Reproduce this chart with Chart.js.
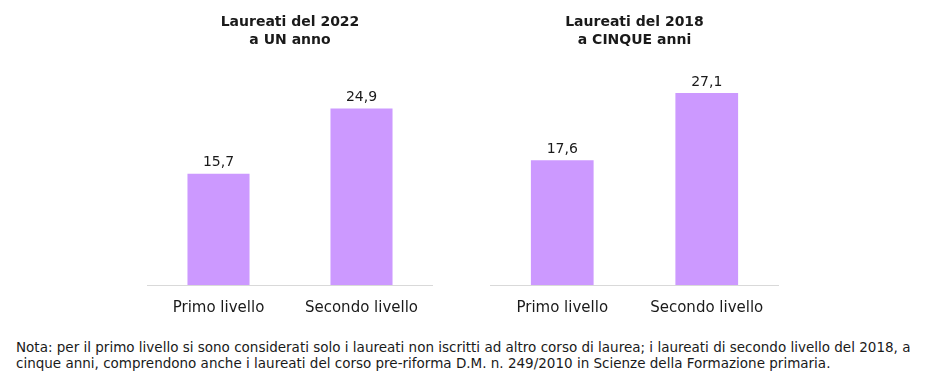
<!DOCTYPE html>
<html>
<head>
<meta charset="utf-8">
<script src="https://cdn.jsdelivr.net/npm/chart.js@4"></script>
<style>
  body { margin: 0; background: #fff; width: 938px; height: 373px; position: relative; overflow: hidden; }
  .box { position: absolute; top: 0; height: 331px; }
  #note { position: absolute; left: 16px; top: 339px; font: 13.5px "DejaVu Sans", sans-serif; color: #1a1a1a; line-height: 16px; white-space: nowrap; }
</style>
</head>
<body>
<div class="box" style="left:147px;width:286px"><canvas id="left"></canvas></div>
<div class="box" style="left:490px;width:289px"><canvas id="right"></canvas></div>
<div id="note">Nota: per il primo livello si sono considerati solo i laureati non iscritti ad altro corso di laurea; i laureati di secondo livello del 2018, a<br>cinque anni, comprendono anche i laureati del corso pre-riforma D.M. n. 249/2010 in Scienze della Formazione primaria.</div>
<script>
const categories = ['Primo livello', 'Secondo livello'];
const values2022 = [15.7, 24.9];
const values2018 = [17.6, 27.1];
const title2022 = ['Laureati del 2022', 'a UN anno'];
const title2018 = ['Laureati del 2018', 'a CINQUE anni'];

const fontFamily = '"DejaVu Sans", sans-serif';

// draw the value above each bar, with a comma as decimal mark
const valueLabels = {
  id: 'valueLabels',
  afterDatasetsDraw(chart) {
    const ctx = chart.ctx;
    ctx.save();
    ctx.font = '14px ' + fontFamily;
    ctx.fillStyle = '#1a1a1a';
    ctx.textAlign = 'center';
    ctx.textBaseline = 'bottom';
    chart.getDatasetMeta(0).data.forEach(function (bar, i) {
      const v = chart.data.datasets[0].data[i];
      ctx.fillText(v.toFixed(1).replace('.', ','), bar.x, bar.y - 4);
    });
    ctx.restore();
  }
};

function makeChart(id, values, title) {
  return new Chart(document.getElementById(id), {
    type: 'bar',
    data: {
      labels: categories,
      datasets: [{
        data: values,
        backgroundColor: '#cc99ff',
        barPercentage: 0.434,
        categoryPercentage: 1
      }]
    },
    options: {
      responsive: true,
      maintainAspectRatio: false,
      animation: false,
      layout: { padding: 0 },
      plugins: {
        legend: { display: false },
        tooltip: { enabled: false },
        title: {
          display: true,
          text: title,
          color: '#1a1a1a',
          font: { family: fontFamily, size: 14, weight: 'bold', lineHeight: 1.3 },
          padding: { top: 13, bottom: 23 }
        }
      },
      scales: {
        y: { display: false, min: 0, max: 30 },
        x: {
          grid: { display: false, drawTicks: false },
          border: { display: true, color: '#d9d9d9' },
          ticks: { color: '#1a1a1a', padding: 14, font: { family: fontFamily, size: 15 } }
        }
      }
    },
    plugins: [valueLabels]
  });
}

makeChart('left', values2022, title2022);
makeChart('right', values2018, title2018);
</script>
</body>
</html>
